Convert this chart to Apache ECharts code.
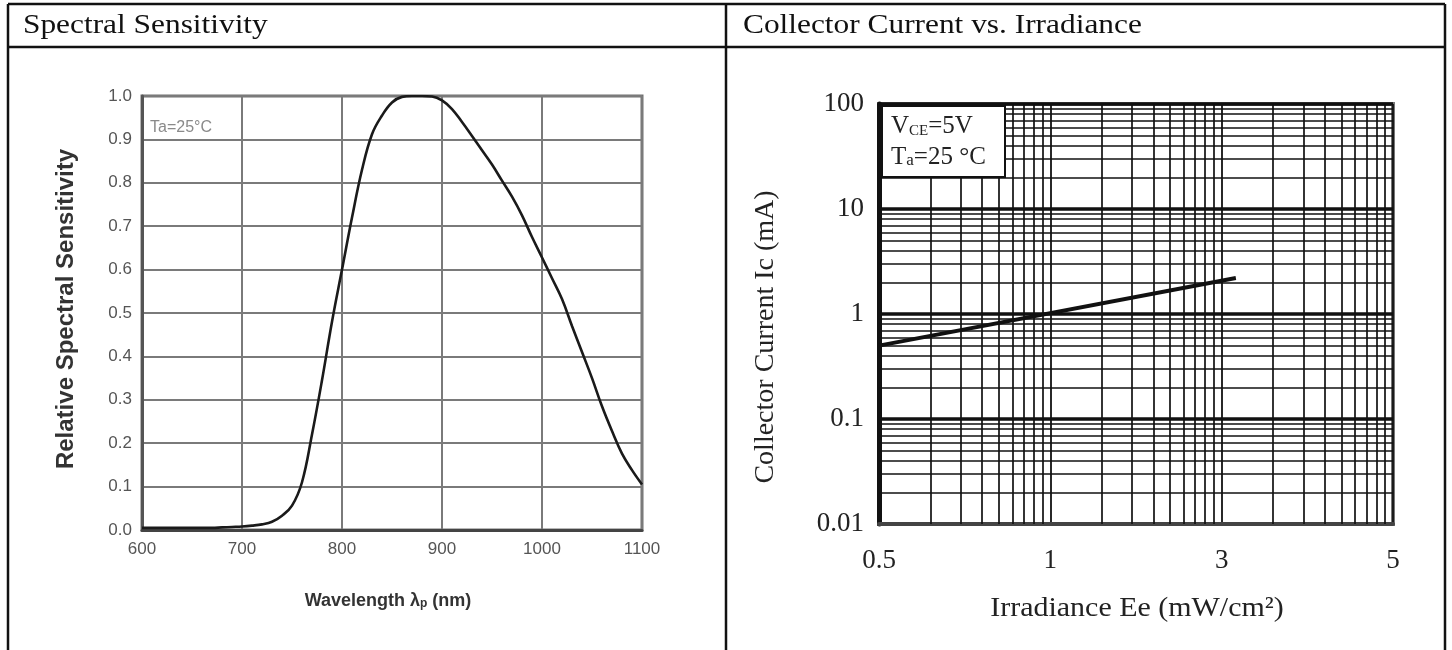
<!DOCTYPE html>
<html>
<head>
<meta charset="utf-8">
<script src="https://cdn.jsdelivr.net/npm/echarts@6.0.0/dist/echarts.min.js"></script>
<style>
html,body{margin:0;padding:0;background:#fff;}
#c{width:1452px;height:650px;}
</style>
</head>
<body>
<div id="c"></div>
<script>
// ---- Left chart: Spectral Sensitivity ----
const wavelength = [600, 610, 620, 630, 640, 650, 660, 670, 680, 690, 700, 710, 720, 730, 740, 750, 760, 770, 780, 790, 800, 810, 820, 830, 840, 850, 860, 870, 880, 890, 900, 910, 920, 930, 940, 950, 960, 970, 980, 990, 1000, 1010, 1020, 1030, 1040, 1050, 1060, 1070, 1080, 1090, 1100];
const sensitivity = [0.005, 0.005, 0.005, 0.005, 0.005, 0.005, 0.005, 0.005, 0.006, 0.007, 0.008, 0.010, 0.013, 0.019, 0.033, 0.056, 0.11, 0.22, 0.345, 0.48, 0.60, 0.72, 0.83, 0.912, 0.955, 0.985, 0.998, 1.0, 1.0, 0.999, 0.99, 0.97, 0.94, 0.908, 0.875, 0.842, 0.805, 0.768, 0.725, 0.675, 0.628, 0.58, 0.532, 0.47, 0.41, 0.35, 0.285, 0.228, 0.176, 0.138, 0.105];

// ---- Right chart: Collector Current vs. Irradiance (3-cycle log paper) ----
const paperDecades = [1, 10, 100, 1000];          // positions of the labelled x cycle boundaries
const irradianceTickLabels = ['0.5', '1', '3', '5'];
const currentDecades = [0.01, 0.1, 1, 10, 100];
const minorMultipliers = [2, 3, 4, 5, 6, 7, 8, 9];
const linePaperX = [1, 121];
const lineCurrent = [0.5, 2.2];

const serif = '"Liberation Serif", "Times New Roman", serif';
const sans = '"Liberation Sans", Arial, sans-serif';

const hMinor = [];
currentDecades.slice(0, -1).forEach(d => minorMultipliers.forEach(m => hMinor.push(+(d * m).toPrecision(3))));
const vMinor = [];
paperDecades.slice(0, -1).forEach(d => minorMultipliers.forEach(m => vMinor.push(d * m)));

const chart = echarts.init(document.getElementById('c'));

function hline(x1, y1, x2, y2, w) {
  return { type: 'line', z: 200, shape: { x1, y1, x2, y2 }, style: { stroke: '#111', lineWidth: w || 2.5 } };
}

const option = {
  animation: false,
  backgroundColor: '#fff',
  grid: [
    { left: 142, right: 1452 - 642, top: 96, bottom: 650 - 530, show: true, borderColor: '#707070', borderWidth: 3, outerBoundsMode: 'none' },
    { left: 879, right: 1452 - 1393, top: 104, bottom: 650 - 524, show: true, borderColor: '#777', borderWidth: 4, outerBoundsMode: 'none' }
  ],
  xAxis: [
    {
      gridIndex: 0, type: 'value', min: 600, max: 1100, interval: 100,
      axisLine: { show: true, lineStyle: { color: '#444', width: 3 } },
      axisTick: { show: false },
      axisLabel: { color: '#555', fontFamily: sans, fontSize: 17, margin: 11, formatter: v => String(v) },
      splitLine: { show: true, lineStyle: { color: '#7a7a7a', width: 2 } }
    },
    {
      gridIndex: 1, type: 'log', logBase: 10, min: 1, max: 1000,
      axisLine: { show: true, onZero: false, lineStyle: { color: '#444', width: 4 } },
      axisTick: { show: false },
      axisLabel: {
        color: '#222', fontFamily: serif, fontSize: 27, margin: 23,
        formatter: v => irradianceTickLabels[paperDecades.indexOf(Math.round(v))] || ''
      },
      splitLine: { show: true, lineStyle: { color: '#111', width: 1.8 } }
    }
  ],
  yAxis: [
    {
      gridIndex: 0, type: 'value', min: 0, max: 1, interval: 0.1,
      axisLine: { show: true, lineStyle: { color: '#555', width: 3 } },
      axisTick: { show: false },
      axisLabel: { color: '#555', fontFamily: sans, fontSize: 17, margin: 10, formatter: v => v.toFixed(1) },
      splitLine: { show: true, lineStyle: { color: '#7a7a7a', width: 2 } }
    },
    {
      gridIndex: 1, type: 'log', logBase: 10, min: 0.01, max: 100,
      axisLine: { show: true, onZero: false, lineStyle: { color: '#111', width: 5 } },
      axisTick: { show: false },
      axisLabel: {
        color: '#222', fontFamily: serif, fontSize: 27, margin: 15,
        formatter: v => String(+(+v).toPrecision(2))
      },
      splitLine: { show: true, lineStyle: { color: '#111', width: 3.5 } }
    }
  ],
  series: [
    {
      type: 'line', xAxisIndex: 0, yAxisIndex: 0, showSymbol: false, smooth: 0.4,
      data: wavelength.map((w, i) => [w, sensitivity[i]]),
      lineStyle: { color: '#1a1a1a', width: 2.6 }, z: 5
    },
    {
      type: 'line', xAxisIndex: 1, yAxisIndex: 1, showSymbol: false,
      data: linePaperX.map((x, i) => [x, lineCurrent[i]]),
      lineStyle: { color: '#111', width: 4 }, z: 5,
      markLine: {
        silent: true, symbol: ['none', 'none'], label: { show: false }, animation: false,
        lineStyle: { color: '#111', width: 1.7, type: 'solid' },
        data: hMinor.map(v => ({ yAxis: v })).concat(vMinor.map(v => ({ xAxis: v })))
      }
    }
  ],
  graphic: [
    // table
    hline(8, 4, 1445, 4), hline(8, 47, 1445, 47),
    hline(8, 4, 8, 650), hline(726, 4, 726, 650), hline(1445, 4, 1445, 650),
    { type: 'text', z: 200, x: 23, y: 26, scaleX: 1.12,
      style: { text: 'Spectral Sensitivity', font: '28px ' + serif, fill: '#111', textVerticalAlign: 'middle' } },
    { type: 'text', z: 200, x: 743, y: 26, scaleX: 1.12,
      style: { text: 'Collector Current vs. Irradiance', font: '28px ' + serif, fill: '#111', textVerticalAlign: 'middle' } },
    // left chart texts
    { type: 'text', z: 200, x: 150, y: 128,
      style: { text: 'Ta=25°C', font: '16px ' + sans, fill: '#8a8a8a', textVerticalAlign: 'middle' } },
    { type: 'text', z: 200, x: 66, y: 309, rotation: Math.PI / 2,
      style: { text: 'Relative Spectral Sensitivity', font: 'bold 24px ' + sans, fill: '#333', textAlign: 'center', textVerticalAlign: 'middle' } },
    { type: 'text', z: 200, x: 388, y: 601,
      style: { text: 'Wavelength λ{s|p} (nm)', font: 'bold 18px ' + sans, fill: '#333', textAlign: 'center', textVerticalAlign: 'middle',
        rich: { s: { fontSize: 12, fontWeight: 'bold', fontFamily: sans, fill: '#333', verticalAlign: 'bottom' } } } },
    // right chart texts
    { type: 'rect', z: 150, shape: { x: 882, y: 106, width: 123, height: 71 },
      style: { fill: '#fff', stroke: '#111', lineWidth: 2 } },
    { type: 'text', z: 200, x: 891, y: 126,
      style: { text: 'V{s|CE}=5V', font: '25px ' + serif, fill: '#222', textVerticalAlign: 'middle',
        rich: { s: { fontSize: 15, fontFamily: serif, fill: '#222', verticalAlign: 'bottom' } } } },
    { type: 'text', z: 200, x: 891, y: 157,
      style: { text: 'T{s|a}=25 °C', font: '25px ' + serif, fill: '#222', textVerticalAlign: 'middle',
        rich: { s: { fontSize: 17, fontFamily: serif, fill: '#222', verticalAlign: 'bottom' } } } },
    { type: 'text', z: 200, x: 766, y: 337, rotation: Math.PI / 2,
      style: { text: 'Collector Current Ic (mA)', font: '28px ' + serif, fill: '#222', textAlign: 'center', textVerticalAlign: 'middle' } },
    { type: 'text', z: 200, x: 1137, y: 609, scaleX: 1.07,
      style: { text: 'Irradiance Ee (mW/cm²)', font: '28px ' + serif, fill: '#222', textAlign: 'center', textVerticalAlign: 'middle' } }
  ]
};
chart.setOption(option);
</script>
</body>
</html>
